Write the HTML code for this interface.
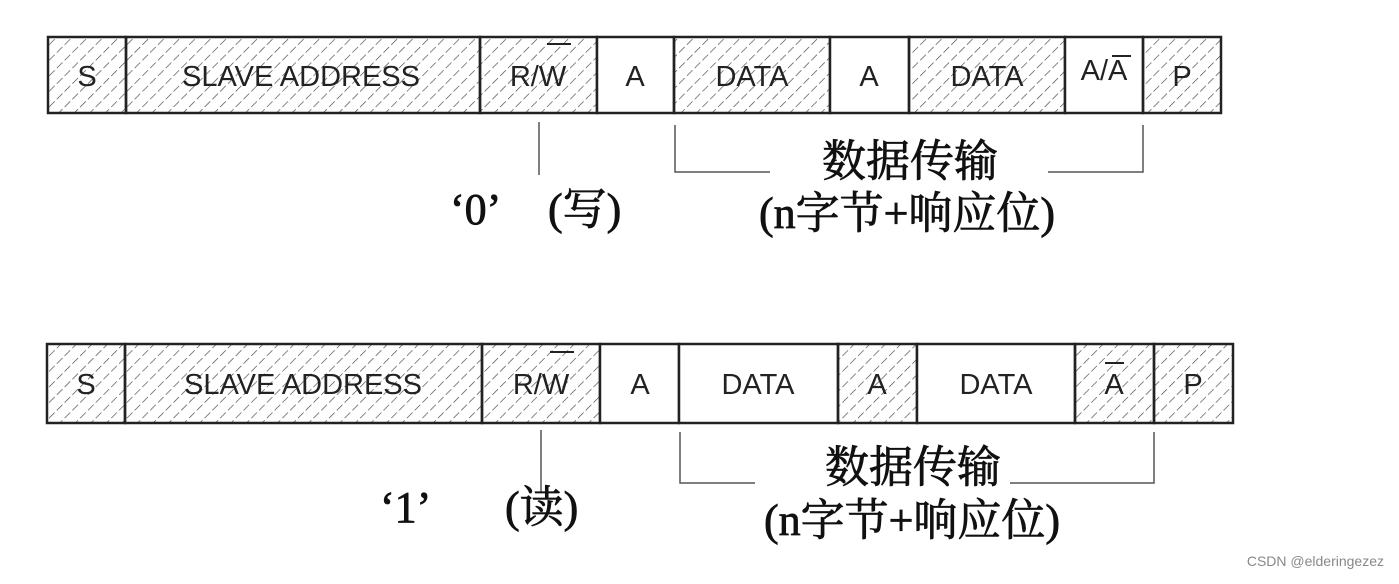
<!DOCTYPE html>
<html><head><meta charset="utf-8"><style>
html,body{margin:0;padding:0;background:#fff;}
</style></head><body>
<svg width="1399" height="579" viewBox="0 0 1399 579" xmlns="http://www.w3.org/2000/svg">
<defs>
<pattern id="h" patternUnits="userSpaceOnUse" width="11" height="11" patternTransform="rotate(45)">
<line x1="0" y1="0" x2="0" y2="11" stroke="#444" stroke-width="1.3" stroke-dasharray="8 3"/>
</pattern>
</defs>
<g font-family="'Liberation Sans', sans-serif" font-size="29" fill="#222" text-anchor="middle">
<g stroke="#222" stroke-width="2.5">
<rect x="48" y="37" width="78" height="76" fill="url(#h)"/>
<rect x="126" y="37" width="354" height="76" fill="url(#h)"/>
<rect x="480" y="37" width="117" height="76" fill="url(#h)"/>
<rect x="597" y="37" width="77" height="76" fill="#fff"/>
<rect x="674" y="37" width="156" height="76" fill="url(#h)"/>
<rect x="830" y="37" width="79" height="76" fill="#fff"/>
<rect x="909" y="37" width="156" height="76" fill="url(#h)"/>
<rect x="1065" y="37" width="78" height="76" fill="#fff"/>
<rect x="1143" y="37" width="78" height="76" fill="url(#h)"/>
</g>
<g stroke="none">
<text x="87" y="86">S</text>
<text x="301" y="86">SLAVE ADDRESS</text>
<text x="538" y="86">R/W</text>
<text x="635" y="86">A</text>
<text x="752" y="86">DATA</text>
<text x="869" y="86">A</text>
<text x="987" y="86">DATA</text>
<text x="1104" y="80">A/A</text>
<text x="1182" y="86">P</text>
</g>
<line x1="547" y1="44" x2="571" y2="44" stroke="#222" stroke-width="2"/>
<line x1="1112" y1="56" x2="1131" y2="56" stroke="#222" stroke-width="2"/>
<g stroke="#222" stroke-width="2.5">
<rect x="47" y="344" width="78" height="79" fill="url(#h)"/>
<rect x="125" y="344" width="357" height="79" fill="url(#h)"/>
<rect x="482" y="344" width="118" height="79" fill="url(#h)"/>
<rect x="600" y="344" width="79" height="79" fill="#fff"/>
<rect x="679" y="344" width="159" height="79" fill="#fff"/>
<rect x="838" y="344" width="79" height="79" fill="url(#h)"/>
<rect x="917" y="344" width="158" height="79" fill="#fff"/>
<rect x="1075" y="344" width="79" height="79" fill="url(#h)"/>
<rect x="1154" y="344" width="79" height="79" fill="url(#h)"/>
</g>
<g stroke="none">
<text x="86" y="394">S</text>
<text x="303" y="394">SLAVE ADDRESS</text>
<text x="541" y="394">R/W</text>
<text x="640" y="394">A</text>
<text x="758" y="394">DATA</text>
<text x="877" y="394">A</text>
<text x="996" y="394">DATA</text>
<text x="1114" y="394">A</text>
<text x="1193" y="394">P</text>
</g>
<line x1="550" y1="352" x2="574" y2="352" stroke="#222" stroke-width="2"/>
<line x1="1105" y1="363" x2="1124" y2="363" stroke="#222" stroke-width="2"/>
</g>
<g stroke="#555" stroke-width="1.5" fill="none">
<line x1="539" y1="122" x2="539" y2="175"/>
<polyline points="675,125 675,172 770,172"/>
<polyline points="1048,172 1143,172 1143,125"/>
<line x1="541" y1="430" x2="541" y2="492"/>
<polyline points="680,432 680,483 755,483"/>
<polyline points="1010,483 1154,483 1154,432"/>
</g>
<g font-family="'Liberation Serif', 'Noto Serif CJK SC', serif" font-size="44" fill="#111" stroke="#111" stroke-width="0.8">
<text x="910" y="176" text-anchor="middle">数据传输</text>
<text x="907" y="228" text-anchor="middle">(n字节+响应位)</text>
<text x="450" y="224">‘0’</text>
<text x="548" y="224">(写)</text>
<text x="913" y="482" text-anchor="middle">数据传输</text>
<text x="912" y="535" text-anchor="middle">(n字节+响应位)</text>
<text x="380" y="522">‘1’</text>
<text x="505" y="522">(读)</text>
</g>
<text x="1384" y="566" font-family="'Liberation Sans', sans-serif" font-size="14" fill="#888" text-anchor="end">CSDN @elderingezez</text>
</svg>
</body></html>
